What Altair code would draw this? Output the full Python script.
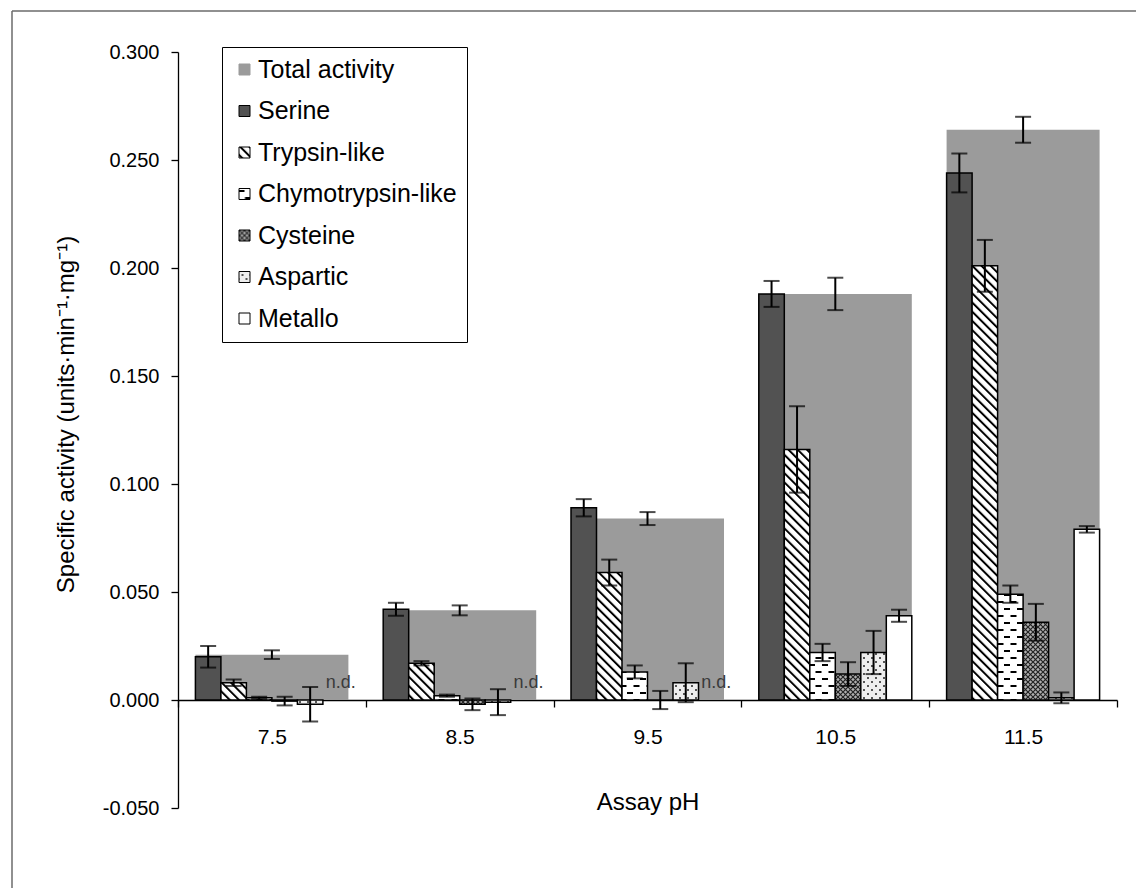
import altair as alt
import pandas as pd
import jinja2

# ---------------- data ----------------
ph = ["7.5", "8.5", "9.5", "10.5", "11.5"]
enzymes = ["Serine", "Trypsin-like", "Chymotrypsin-like", "Cysteine", "Aspartic", "Metallo"]
series_order = ["Total activity"] + enzymes

total = [0.021, 0.0415, 0.084, 0.188, 0.264]
total_err = [0.002, 0.0023, 0.003, 0.0075, 0.006]

serine = [0.020, 0.042, 0.089, 0.188, 0.244]
serine_err = [0.005, 0.003, 0.004, 0.006, 0.009]
trypsin = [0.008, 0.017, 0.059, 0.116, 0.201]
trypsin_err = [0.0015, 0.001, 0.006, 0.020, 0.012]
chymo = [0.001, 0.002, 0.013, 0.022, 0.049]
chymo_err = [0.0005, 0.0005, 0.003, 0.004, 0.004]
cysteine = [-0.0005, -0.002, 0.0, 0.012, 0.036]
cysteine_err = [0.002, 0.0027, 0.0042, 0.0055, 0.0085]
aspartic = [-0.002, -0.001, 0.008, 0.022, 0.001]
aspartic_err = [0.008, 0.006, 0.009, 0.010, 0.0025]
metallo = [None, None, None, 0.039, 0.079]
metallo_err = [None, None, None, 0.0028, 0.0015]

nd_ph = ["7.5", "8.5", "9.5"]
nd_label = "n.d."
nd_level = 0.0080

y_ticks = [-0.05, 0.0, 0.05, 0.10, 0.15, 0.20, 0.25, 0.30]

fills = ["#9b9b9b", "#525252", "url(#p_tryp)", "url(#p_chymo)", "url(#p_cys)", "url(#p_asp)", "#ffffff"]
strokes = ["#9b9b9b", "#000000", "#000000", "#000000", "#000000", "#000000", "#000000"]

# ---------------- tables ----------------
values = {"Serine": (serine, serine_err), "Trypsin-like": (trypsin, trypsin_err),
          "Chymotrypsin-like": (chymo, chymo_err), "Cysteine": (cysteine, cysteine_err),
          "Aspartic": (aspartic, aspartic_err), "Metallo": (metallo, metallo_err)}
rows = []
for enz in enzymes:
    v, e = values[enz]
    for i, p in enumerate(ph):
        if v[i] is None:
            continue
        rows.append({"ph": p, "series": enz, "value": v[i], "lo": v[i] - e[i], "hi": v[i] + e[i]})
df = pd.DataFrame(rows)
tdf = pd.DataFrame({"ph": ph, "series": ["Total activity"] * len(ph), "value": total,
                    "lo": [t - e for t, e in zip(total, total_err)],
                    "hi": [t + e for t, e in zip(total, total_err)]})
nd_df = pd.DataFrame({"ph": nd_ph, "series": ["Metallo"] * len(nd_ph), "label": [nd_label] * len(nd_ph)})

# ---------------- encodings ----------------
xsc = alt.Scale(domain=ph, paddingInner=0, paddingOuter=0)
x_enc = alt.X("ph:N", scale=xsc, sort=ph,
              axis=alt.Axis(title="Assay pH", labelAngle=0, offset=-108, tickBand="extent",
                            tickSize=7, labelPadding=19, titlePadding=43, labelFontSize=21))
xoff = alt.XOffset("series:N", sort=enzymes,
                   scale=alt.Scale(domain=enzymes, paddingInner=0, paddingOuter=0.6824))
ysc = alt.Scale(domain=[-0.05, 0.3], nice=False, zero=False)
y_axis = alt.Axis(title="Specific activity (units·min⁻¹·mg⁻¹)", values=y_ticks, tickSize=7,
                  labelPadding=12, titlePadding=24, titleY=362,
                  labelExpr="(datum.value < -0.0000001 ? '-' : '') + format(abs(datum.value), '.3f')")
y_enc = alt.Y("value:Q", scale=ysc, axis=y_axis)

leg = alt.Legend(title=None, orient="none", legendX=44, legendY=-5, padding=10,
                 strokeColor="black", fillColor="white", symbolType="square", symbolSize=121,
                 symbolStrokeWidth=1, labelFontSize=25, labelOffset=1, rowPadding=15.5,
                 labelLimit=400, labelColor="black")
fill_enc = alt.Fill("series:N", scale=alt.Scale(domain=series_order, range=fills), legend=leg)
stroke_enc = alt.Stroke("series:N", scale=alt.Scale(domain=series_order, range=strokes), legend=leg)

frame_top = alt.Chart(alt.Data(values=[{"f": 1}])).mark_rule(
    color="#6b6b6b", strokeWidth=1.5, clip=False
).encode(x=alt.value(-166), x2=alt.value(1000), y=alt.value(-41))
frame_left = alt.Chart(alt.Data(values=[{"f": 1}])).mark_rule(
    color="#6b6b6b", strokeWidth=1.5, clip=False
).encode(x=alt.value(-166), y=alt.value(-41), y2=alt.value(900))

total_bars = alt.Chart(tdf).mark_bar(width=alt.RelativeBandSize(0.8147), strokeWidth=0).encode(
    x=x_enc, y=y_enc, y2=alt.datum(0), fill=fill_enc, stroke=stroke_enc)
total_rule = alt.Chart(tdf).mark_rule(color="black", strokeWidth=2).encode(
    x=alt.X("ph:N", scale=xsc, sort=ph), y=alt.Y("lo:Q", scale=ysc), y2="hi:Q")
total_cap_lo = alt.Chart(tdf).mark_tick(color="black", thickness=2, size=16).encode(
    x=alt.X("ph:N", scale=xsc, sort=ph), y=alt.Y("lo:Q", scale=ysc))
total_cap_hi = alt.Chart(tdf).mark_tick(color="black", thickness=2, size=16).encode(
    x=alt.X("ph:N", scale=xsc, sort=ph), y=alt.Y("hi:Q", scale=ysc))

bars = alt.Chart(df).mark_bar(strokeWidth=1.5).encode(
    x=alt.X("ph:N", scale=xsc, sort=ph), xOffset=xoff, y=alt.Y("value:Q", scale=ysc),
    y2=alt.datum(0), fill=fill_enc, stroke=stroke_enc)
err_rule = alt.Chart(df).mark_rule(color="black", strokeWidth=2).encode(
    x=alt.X("ph:N", scale=xsc, sort=ph), xOffset=xoff, y=alt.Y("lo:Q", scale=ysc), y2="hi:Q")
cap_lo = alt.Chart(df).mark_tick(color="black", thickness=2, size=16).encode(
    x=alt.X("ph:N", scale=xsc, sort=ph), xOffset=xoff, y=alt.Y("lo:Q", scale=ysc))
cap_hi = alt.Chart(df).mark_tick(color="black", thickness=2, size=16).encode(
    x=alt.X("ph:N", scale=xsc, sort=ph), xOffset=xoff, y=alt.Y("hi:Q", scale=ysc))

nd_text = alt.Chart(nd_df).mark_text(fontSize=18, color="#3a3a3a", dx=5, baseline="middle").encode(
    x=alt.X("ph:N", scale=xsc, sort=ph), xOffset=xoff, y=alt.datum(nd_level), text="label:N")

chart = alt.layer(frame_top, frame_left, total_bars, total_rule, total_cap_lo, total_cap_hi,
                  bars, err_rule, cap_lo, cap_hi, nd_text).properties(
    width=939, height=756, autosize=alt.AutoSizeParams(type="none"),
    padding={"left": 178, "top": 52, "right": 19, "bottom": 80},
    background="white"
).configure(font="Liberation Sans").configure_view(stroke=None).configure_axis(
    labelFontSize=20, titleFontSize=24, titleFontWeight="normal", labelColor="black",
    titleColor="black", domainColor="black", tickColor="black", domainWidth=1.3,
    tickWidth=1.3, grid=False)

PATTERNS = """
<svg width="0" height="0" style="position:absolute;left:0;top:0" aria-hidden="true">
 <defs>
  <pattern id="p_tryp" patternUnits="userSpaceOnUse" width="6.5" height="6.5" patternTransform="rotate(-45)">
   <rect width="6.5" height="6.5" fill="#ffffff"/>
   <rect width="2" height="6.5" fill="#000000"/>
  </pattern>
  <pattern id="p_chymo" patternUnits="userSpaceOnUse" width="13" height="14">
   <rect width="13" height="14" fill="#ffffff"/>
   <rect x="0.5" y="3" width="6" height="2" fill="#000000"/>
   <rect x="7" y="10" width="6" height="2" fill="#000000"/>
  </pattern>
  <pattern id="p_cys" patternUnits="userSpaceOnUse" width="5" height="5">
   <rect width="5" height="5" fill="#b0b0b0"/>
   <path d="M0,0 L5,5 M5,0 L0,5" stroke="#222222" stroke-width="1.2"/>
  </pattern>
  <pattern id="p_asp" patternUnits="userSpaceOnUse" width="8" height="8">
   <rect width="8" height="8" fill="#eeeeee"/>
   <circle cx="2" cy="2" r="1" fill="#222222"/>
   <circle cx="6" cy="6" r="1" fill="#222222"/>
  </pattern>
 </defs>
</svg>
"""

TEMPLATE = jinja2.Template("""<!DOCTYPE html>
<html>
<head>
<meta charset="utf-8">
<style>
 body { margin: 0; }
 #{{ output_div }}.vega-embed { width: 100%; display: flex; }
</style>
<script type="text/javascript" src="{{ base_url }}/vega@{{ vega_version }}"></script>
<script type="text/javascript" src="{{ base_url }}/vega-lite@{{ vegalite_version }}"></script>
<script type="text/javascript" src="{{ base_url }}/vega-embed@{{ vegaembed_version }}"></script>
</head>
<body>
""" + PATTERNS + """
<div id="{{ output_div }}"></div>
<script type="text/javascript">
 (function(vegaEmbed) {
   var spec = {{ spec }};
   var embedOpt = {{ embed_options }};
   var el = document.getElementById('{{ output_div }}');
   vegaEmbed(el, spec, embedOpt).catch(function(error) {
     el.innerHTML = '<pre style="color:red">' + error + '</pre>';
   });
 })(vegaEmbed);
</script>
</body>
</html>
""")

try:
    chart.save("out.html", embed_options={"renderer": "svg", "actions": False}, template=TEMPLATE)
except Exception:
    chart.save("out.html", embed_options={"renderer": "svg", "actions": False})
